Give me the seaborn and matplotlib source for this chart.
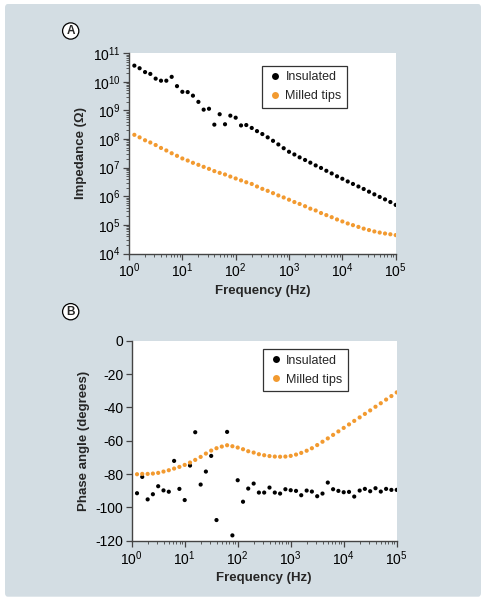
import numpy as np
import pandas as pd
import matplotlib
matplotlib.use("Agg")
import matplotlib.pyplot as plt
from matplotlib.patches import FancyBboxPatch
from matplotlib.lines import Line2D
from matplotlib.ticker import LogLocator, NullFormatter
import seaborn as sns

# %% Data
freq_hz = [1.26, 1.58, 2.0, 2.51, 3.16, 3.98, 5.01, 6.31, 7.94, 10,
           12.6, 15.8, 20.0, 25.1, 31.6, 39.8, 50.1, 63.1, 79.4, 100,
           126, 158, 200, 251, 316, 398, 501, 631, 794, 1000,
           1260, 1580, 2000, 2510, 3160, 3980, 5010, 6310, 7940, 10000,
           12600, 15800, 20000, 25100, 31600, 39800, 50100, 63100, 79400, 100000]

imp_insulated = [3.7e10, 3.0e10, 2.2e10, 1.9e10, 1.3e10, 1.1e10, 1.1e10, 1.5e10, 7.1e9, 4.5e9,
                 4.4e9, 3.3e9, 2.0e9, 1.07e9, 1.15e9, 3.2e8, 7.4e8, 3.3e8, 6.6e8, 5.6e8,
                 3.0e8, 3.1e8, 2.45e8, 1.9e8, 1.5e8, 1.15e8, 8.7e7, 6.5e7, 4.8e7, 3.6e7,
                 2.9e7, 2.3e7, 1.86e7, 1.5e7, 1.2e7, 9.8e6, 7.8e6, 6.3e6, 5.0e6, 4.1e6,
                 3.3e6, 2.7e6, 2.2e6, 1.8e6, 1.45e6, 1.17e6, 9.5e5, 7.8e5, 6.3e5, 5.0e5]

imp_milled = [1.41e8, 1.15e8, 9.1e7, 7.6e7, 6.2e7, 4.9e7, 4.0e7, 3.2e7, 2.6e7, 2.1e7,
              1.78e7, 1.48e7, 1.26e7, 1.07e7, 9.1e6, 7.6e6, 6.6e6, 5.8e6, 4.9e6, 4.2e6,
              3.6e6, 3.1e6, 2.7e6, 2.2e6, 1.82e6, 1.55e6, 1.29e6, 1.07e6, 9.1e5, 7.6e5,
              6.3e5, 5.4e5, 4.5e5, 3.7e5, 3.2e5, 2.6e5, 2.2e5, 1.86e5, 1.55e5, 1.32e5,
              1.12e5, 9.8e4, 8.5e4, 7.4e4, 6.6e4, 5.9e4, 5.4e4, 5.0e4, 4.7e4, 4.4e4]

phase_insulated = [-91.5, -81.7, -95.2, -92.1, -87.3, -89.8, -90.6, -72.1, -88.9, -95.6,
                   -74.9, -54.9, -86.3, -78.5, -69.1, -107.6, np.nan, -54.7, -116.8, -83.7,
                   -96.6, -88.7, -85.7, -91.1, -91.1, -88.1, -91.1, -91.7, -89.1, -89.7,
                   -90.1, -92.7, -89.9, -90.5, -93.3, -91.7, -85.1, -89.1, -90.1, -90.9,
                   -90.7, -93.5, -89.9, -88.9, -90.3, -88.5, -90.5, -88.9, -89.5, -89.5]

phase_milled = [-80.1, -79.9, -79.9, -79.7, -79.3, -78.5, -77.7, -76.7, -75.7, -74.5,
                -73.1, -71.5, -69.7, -67.7, -65.9, -64.5, -63.5, -62.7, -63.3, -64.1,
                -65.1, -66.3, -67.1, -68.1, -68.7, -69.2, -69.5, -69.6, -69.5, -69.1,
                -68.3, -67.3, -66.0, -64.5, -62.6, -60.6, -58.6, -56.5, -54.4, -52.3,
                -50.2, -48.1, -46.0, -43.9, -41.8, -39.6, -37.5, -35.3, -33.2, -31.0]

series_names = ["Insulated", "Milled tips"]
colors = {"Insulated": "black", "Milled tips": "#F29A30"}

imp_df = pd.DataFrame({
    "freq": freq_hz * 2,
    "value": imp_insulated + imp_milled,
    "series": [series_names[0]] * len(freq_hz) + [series_names[1]] * len(freq_hz),
})
phase_df = pd.DataFrame({
    "freq": freq_hz * 2,
    "value": phase_insulated + phase_milled,
    "series": [series_names[0]] * len(freq_hz) + [series_names[1]] * len(freq_hz),
})

# %% Style
sns.set_style("ticks")
plt.rcParams["font.family"] = ["Liberation Sans", "DejaVu Sans"]
plt.rcParams["mathtext.fontset"] = "custom"
plt.rcParams["mathtext.rm"] = "Liberation Sans"
plt.rcParams["axes.edgecolor"] = "#444444"
plt.rcParams["xtick.color"] = "#444444"
plt.rcParams["ytick.color"] = "#444444"
plt.rcParams["xtick.labelcolor"] = "black"
plt.rcParams["ytick.labelcolor"] = "black"

fig = plt.figure(figsize=(4.86, 6.0), dpi=100)
fig.patch.set_facecolor("white")
fig.patches.append(FancyBboxPatch((5 / 486, 0.0055), 476 / 486, 0.9878,
                                  boxstyle="round,pad=0,rounding_size=0.006",
                                  transform=fig.transFigure, facecolor="#d3dde3",
                                  edgecolor="none", zorder=-10))

ax1 = fig.add_axes([129 / 486, 0.5775, 266.7 / 486, 0.3337])
ax2 = fig.add_axes([131.7 / 486, 0.0988, 265 / 486, 0.3333])


def style_axis(ax):
    ax.set_facecolor("white")
    ax.spines["top"].set_visible(False)
    ax.spines["right"].set_visible(False)
    ax.spines["left"].set_linewidth(1.0)
    ax.spines["bottom"].set_linewidth(1.0)
    ax.tick_params(which="major", length=4, width=0.9, labelsize=10, pad=2)
    ax.tick_params(which="minor", length=2, width=0.6)


def log_minor(axis):
    axis.set_minor_locator(LogLocator(base=10, subs=np.arange(2, 10), numticks=100))
    axis.set_minor_formatter(NullFormatter())


def add_legend(ax, anchor):
    handles = [Line2D([], [], linestyle="none", marker="o", markersize=5,
                      markerfacecolor=colors[n], markeredgecolor="none", label=n)
               for n in series_names]
    leg = ax.legend(handles=handles, loc="upper left", bbox_to_anchor=anchor,
                    frameon=True, fancybox=False, framealpha=1, fontsize=9,
                    handletextpad=0.2, handlelength=1.2, borderpad=0.45,
                    labelspacing=0.55, borderaxespad=0)
    leg.get_frame().set_edgecolor("#333333")
    leg.get_frame().set_linewidth(0.9)


# %% Panel A - impedance
sns.scatterplot(data=imp_df, x="freq", y="value", hue="series", palette=colors,
                s=9, linewidth=0, ax=ax1, legend=False)
ax1.set_xscale("log")
ax1.set_yscale("log")
ax1.set_xlim(1, 1e5)
ax1.set_ylim(1e4, 1e11)
ax1.set_xticks([1, 1e1, 1e2, 1e3, 1e4, 1e5])
ax1.set_yticks([1e4, 1e5, 1e6, 1e7, 1e8, 1e9, 1e10, 1e11])
log_minor(ax1.xaxis)
log_minor(ax1.yaxis)
style_axis(ax1)
ax1.set_xlabel("Frequency (Hz)", fontsize=9.5, fontweight="bold", labelpad=3)
ax1.set_ylabel("Impedance (\u03a9)", fontsize=9.5, fontweight="bold", labelpad=4)
add_legend(ax1, (0.5, 0.938))

# %% Panel B - phase angle
sns.scatterplot(data=phase_df, x="freq", y="value", hue="series", palette=colors,
                s=9, linewidth=0, ax=ax2, legend=False)
ax2.set_xscale("log")
ax2.set_xlim(1, 1e5)
ax2.set_ylim(-120, 0)
ax2.set_xticks([1, 1e1, 1e2, 1e3, 1e4, 1e5])
log_minor(ax2.xaxis)
ax2.set_yticks([0, -20, -40, -60, -80, -100, -120])
ax2.set_yticklabels(["0", "-20", "-40", "-60", "-80", "-100", "-120"])
ax2.yaxis.set_minor_locator(plt.NullLocator())
style_axis(ax2)
ax2.set_xlabel("Frequency (Hz)", fontsize=9.5, fontweight="bold", labelpad=3)
ax2.set_ylabel("Phase angle (degrees)", fontsize=9.5, fontweight="bold", labelpad=4)
add_legend(ax2, (0.495, 0.958))

# %% Panel letters
for letter, ypos in [("A", 1 - 31 / 600), ("B", 1 - 311.7 / 600)]:
    fig.text(70.7 / 486, ypos, letter, ha="center", va="center", fontsize=8.5,
             fontweight="bold",
             bbox=dict(boxstyle="circle,pad=0.18", facecolor="white",
                       edgecolor="black", linewidth=0.9))

fig.savefig("out.png", dpi=100)
